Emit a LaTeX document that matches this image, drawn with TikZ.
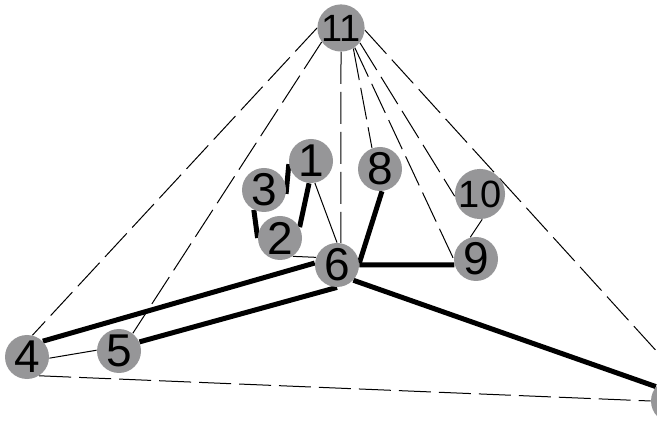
\documentclass[tikz,border=0pt]{standalone}
\usepackage{fontspec}
\setmainfont{Liberation Sans}
\usepackage{tikz}
\usetikzlibrary{backgrounds}
\definecolor{vgray}{RGB}{150,150,152}
\tikzset{
  vert/.style={circle,fill=vgray,inner sep=0pt,minimum size=22pt,font=\fontsize{23}{23}\selectfont},
  smallvert/.style={vert,font=\fontsize{19}{19}\selectfont},
  thinedge/.style={line width=0.5pt},
  dashedge/.style={line width=0.5pt,dash pattern=on 16pt off 4pt},
  thickedge/.style={line width=2.5pt}
}

\begin{document}
\begin{tikzpicture}[x=0.5pt,y=-0.5pt]
\useasboundingbox (0,0) rectangle (657,421);
% vertices
\node[smallvert] (n11) at (341,28) {11};
\node[vert] (n1) at (311,161) {1};
\node[vert] (n3) at (264,190) {3};
\node[vert] (n2) at (280,238) {2};
\node[vert] (n8) at (380,169) {8};
\node[smallvert] (n10) at (480,194) {10};
\node[vert] (n9) at (476,259) {9};
\node[vert] (n6) at (337,265) {6};
\node[vert] (n4) at (27,357) {4};
\node[vert] (n5) at (119,351) {5};
\node[vert] (n7) at (673,401) {};

\begin{scope}[on background layer]
% dashed edges
\draw[dashedge] (n11.180) -- (n4.76);
\draw[dashedge] (n11.216) -- (n5.52);
\draw[dashedge] (n11.south) -- (n6.80);
\draw[dashedge] (n11.-59) -- (n8.111);
\draw[dashedge] (n11.-55) -- (n9.180);
\draw[dashedge] (n11.-38) -- (n10.185);
\draw[dashedge] (n11.-5) -- (n7.60);
\draw[dashedge] (n4.-57) -- (n7.180);
% thick edges
\draw[thickedge] (n4.45) -- (n6.175);
\draw[thickedge] (n5.24) -- (n6.270);
\draw[thickedge] (n6.-43) -- (n7.140);
\draw[thickedge] (n6.0) -- (n9.195);
\draw[thickedge] (n6.5) -- (n8.-85);
\draw[thickedge] (n1.265) -- (n2.29);
\draw[thickedge] (n3.-10) -- (n1.188);
\draw[thickedge] (n3.243) -- (n2.180);
% thin edges
\draw[thinedge] (n1.-80) -- (n6.90);
\draw[thinedge] (n2.-55) -- (n6.160);
\draw[thinedge] (n4.-3) -- (n5.178);
\draw[thinedge] (n10.-85) -- (n9.105);
\end{scope}
\end{tikzpicture}
\end{document}
